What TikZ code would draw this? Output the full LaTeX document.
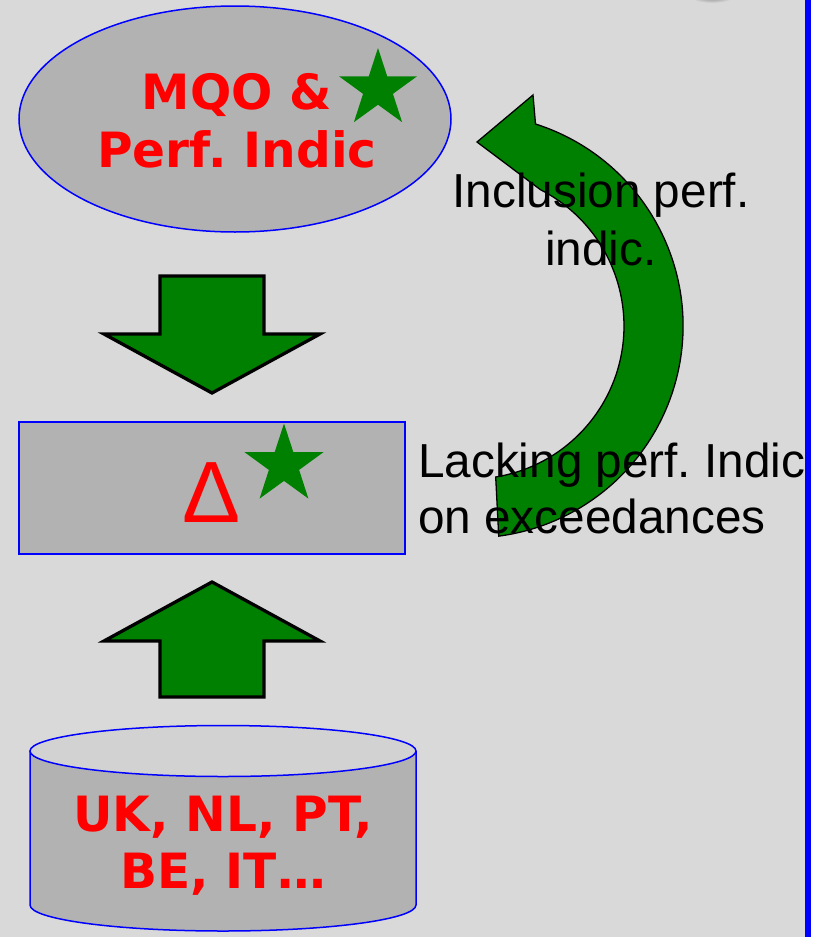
\documentclass[tikz,border=0pt]{standalone}
\usepackage{fontspec}
\setmainfont{Liberation Sans}
\newfontfamily\boldsans{DejaVu Sans}
\usetikzlibrary{shapes.geometric}
\definecolor{bg}{HTML}{D9D9D9}
\definecolor{boxfill}{HTML}{B2B2B2}
\definecolor{topfill}{HTML}{D2D2D2}
\definecolor{dgreen}{HTML}{008000}
\tikzset{
  blockarrow/.style={fill=dgreen, draw=black, line width=3.3pt, line join=miter},
  shapeline/.style={draw=blue, line width=1.5pt, fill=boxfill},
  redbold/.style={text=red, inner sep=0pt, anchor=base, font=\boldsans\bfseries\fontsize{48.6}{58}\selectfont},
  plaintext/.style={text=black, inner sep=0pt, anchor=base, font=\fontsize{47.7}{58}\selectfont},
  greenstar/.style={fill=dgreen}
}
\frenchspacing
\begin{document}
\begin{tikzpicture}[x=1pt,y=-1pt]
\useasboundingbox (0,0) rectangle (817,937);
\begin{scope}
\clip (0,0) rectangle (817,937);
\fill[bg] (0,0) rectangle (805,937);
\fill[blue] (805,0) rectangle (811,937);
\fill[white] (811,0) rectangle (817,937);
\shade[inner color=black!50, outer color=bg] (712,-4) ellipse [x radius=22, y radius=7];
\end{scope}

% ellipse
\node[ellipse, shapeline, minimum width=432pt, minimum height=226pt, inner sep=0pt] (mqo) at (235,119) {};
\node[redbold] (mqo1) at (237,109) {MQO \&};
\node[redbold] (mqo2) at (237,167) {Perf. Indic};
\fill[greenstar, shift={(378,89)}] (-90:41) -- (-54:15.7) -- (-18:41) -- (18:15.7) -- (54:41) -- (90:15.7) -- (126:41) -- (162:15.7) -- (198:41) -- (234:15.7) -- cycle;

% down arrow
\draw[blockarrow] (160,276) -- (264,276) -- (264,334) -- (320,334) -- (212,393) -- (104,334) -- (160,334) -- cycle;

% rectangle
\node[rectangle, shapeline, minimum width=386pt, minimum height=132pt, inner sep=0pt] (delta) at (212,488) {};
\node[text=red, inner sep=0pt, anchor=base, font=\fontsize{87}{87}\selectfont] (deltasym) at (212,522) {Δ};
\fill[greenstar, shift={(284,465)}] (-90:41.5) -- (-54:15.9) -- (-18:41.5) -- (18:15.9) -- (54:41.5) -- (90:15.9) -- (126:41.5) -- (162:15.9) -- (198:41.5) -- (234:15.9) -- cycle;

% up arrow
\draw[blockarrow] (212,582) -- (320,641) -- (264,641) -- (264,697) -- (160,697) -- (160,641) -- (104,641) -- cycle;

% cylinder
\filldraw[shapeline] (30,751) -- (30,905) arc[start angle=180, end angle=0, x radius=193, y radius=26] -- (416,751);
\filldraw[shapeline, fill=topfill] (223,751) ellipse [x radius=193, y radius=25.5];
\node[redbold] (db1) at (223,831) {UK, NL, PT,};
\node[redbold] (db2) at (223,888) {BE, IT…};

% curved arrow
\filldraw[fill=dgreen, draw=black, line width=1.3pt, line join=miter] (533,95) -- (535.5,124) arc[start angle=-72.3, end angle=82.5, radius=212] -- (495.7,477) arc[start angle=80.7, end angle=-63, radius=153] -- (477,142) -- cycle;

% labels
\node[plaintext] (inc1) at (601,207) {Inclusion perf.};
\node[plaintext] (inc2) at (601,265) {indic.};
\node[plaintext, anchor=base west] (lack1) at (418,477) {Lacking perf. Indic};
\node[plaintext, anchor=base west] (lack2) at (418,533) {on exceedances};
\end{tikzpicture}
\end{document}
